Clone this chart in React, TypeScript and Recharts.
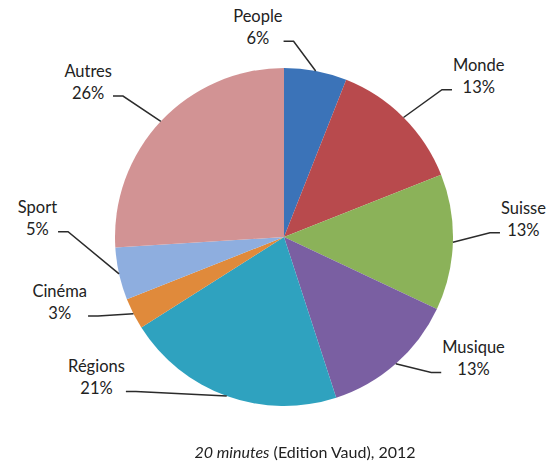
import React from "react";
import { PieChart, Pie, Cell } from "recharts";

const categories = ["People", "Monde", "Suisse", "Musique", "Régions", "Cinéma", "Sport", "Autres"];
const shares = [6, 13, 13, 13, 21, 3, 5, 26];
const colors = ["#3b73b8", "#b84a4d", "#8bb259", "#7a5fa2", "#2fa2bf", "#e08a3b", "#8eaedf", "#d29394"];

// elbow of each leader line: angle shift (deg, clockwise) from the slice middle, distance from centre, text side
const labelLayout = [
  { shift: -8, dist: 196, side: -1 },
  { shift: 2, dist: 216, side: 1 },
  { shift: -3, dist: 206, side: 1 },
  { shift: -6, dist: 200, side: 1 },
  { shift: 24, dist: 214, side: -1 },
  { shift: 4, dist: 202, side: -1 },
  { shift: 14, dist: 216, side: -1 },
  { shift: -2, dist: 214, side: -1 },
];

const data = categories.map((name, i) => ({ name, value: shares[i] }));

const FONT = "Lato, 'Open Sans', sans-serif";
const FS = 16.5;

let ctx: CanvasRenderingContext2D | null = null;
function textWidth(s: string) {
  if (!ctx) ctx = document.createElement("canvas").getContext("2d");
  if (!ctx) return s.length * FS * 0.55;
  ctx.font = `${FS}px Lato`;
  return ctx.measureText(s).width;
}

const rad = Math.PI / 180;

function renderLabel(props: any) {
  const { cx, cy, midAngle, outerRadius, index, value, name } = props;
  const lay = labelLayout[index];
  const theta = 90 - midAngle; // clockwise from top
  const x0 = cx + outerRadius * Math.sin(theta * rad);
  const y0 = cy - outerRadius * Math.cos(theta * rad);
  const e = theta + lay.shift;
  const x1 = cx + lay.dist * Math.sin(e * rad);
  const y1 = cy - lay.dist * Math.cos(e * rad);
  const x2 = x1 + lay.side * 10;
  const w = Math.max(textWidth(name), textWidth(`${value}%`));
  const tx = x2 + lay.side * (w / 2 + 1);
  return (
    <g key={`lab-${index}`}>
      <polyline
        points={`${x0},${y0} ${x1},${y1} ${x2},${y1}`}
        fill="none"
        stroke="#2b2b2b"
        strokeWidth={1.5}
      />
      <text x={tx} y={y1 - 19} textAnchor="middle" fontSize={FS} fontFamily={FONT} fill="#222">
        {name}
      </text>
      <text x={tx} y={y1 + 3} textAnchor="middle" fontSize={FS} fontFamily={FONT} fill="#222">
        {`${value}%`}
      </text>
    </g>
  );
}

export default function App() {
  return (
    <div style={{ position: "fixed", left: 0, top: 0, width: 555, height: 466, background: "#fff" }}>
      <PieChart width={555} height={466} margin={{ top: 0, right: 0, bottom: 0, left: 0 }}>
        <Pie
          data={data}
          dataKey="value"
          nameKey="name"
          cx={284}
          cy={237}
          outerRadius={169}
          startAngle={90}
          endAngle={-270}
          stroke="none"
          labelLine={false}
          label={renderLabel}
          isAnimationActive={false}
        >
          {data.map((d, i) => (
            <Cell key={d.name} fill={colors[i]} />
          ))}
        </Pie>
      </PieChart>
      <div
        style={{
          position: "absolute",
          left: 0,
          width: 610,
          top: 442,
          textAlign: "center",
          fontFamily: FONT,
          fontSize: 16,
          color: "#222",
        }}
      >
        <i>20 minutes</i> (Edition Vaud), 2012
      </div>
    </div>
  );
}
